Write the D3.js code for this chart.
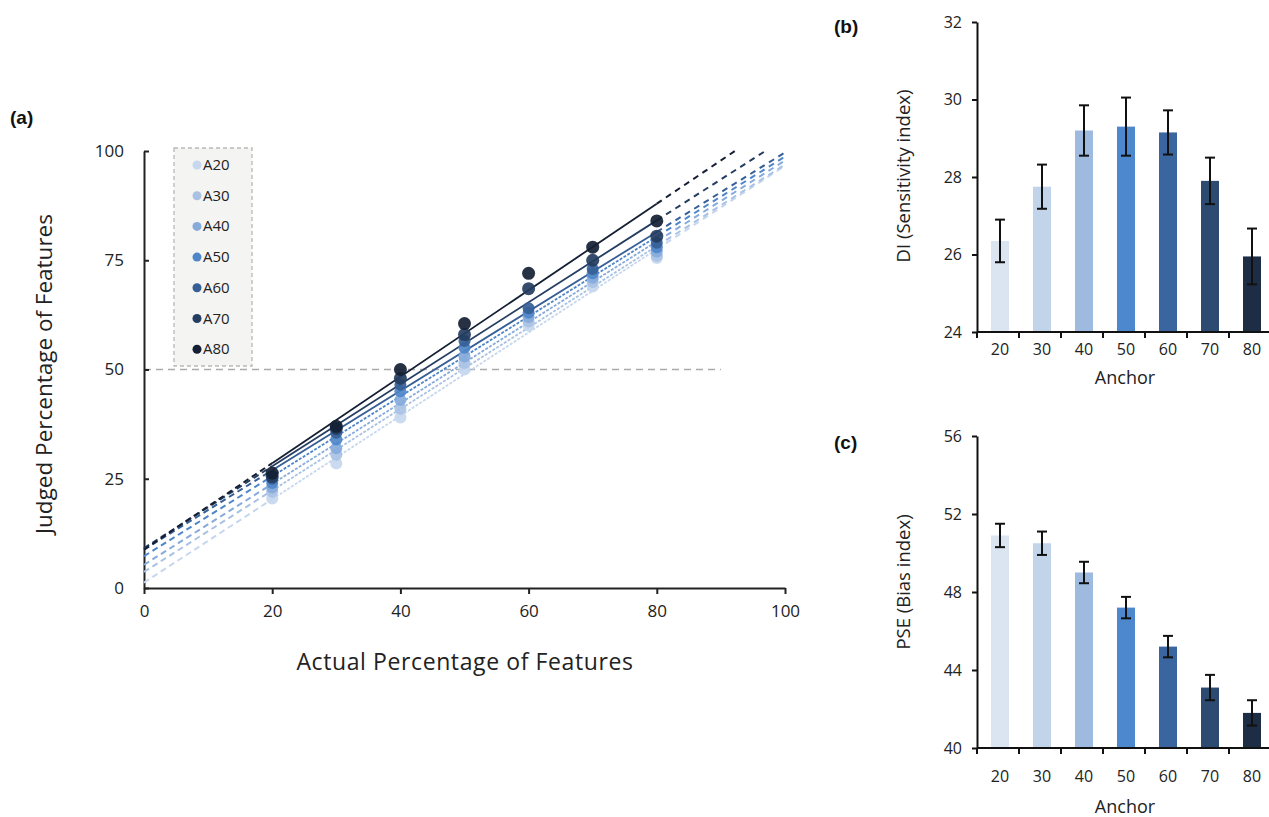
<!DOCTYPE html>
<html><head><meta charset="utf-8">
<script src="https://cdn.jsdelivr.net/npm/d3@7"></script>
<style>
html,body{margin:0;padding:0;background:#fff;}
svg{display:block;}
text{font-family:"Open Sans",Lato,sans-serif;fill:#222;}
.plabel{font-family:"Liberation Sans",Arial,sans-serif;font-weight:bold;font-size:19px;fill:#111;}
</style></head>
<body>
<svg id="chart" width="1269" height="817"></svg>
<script>
// ---------- data ----------
const actualTicks = [0,20,40,60,80,100];
const judgedTicks = [0,25,50,75,100];
const anchorX = [20,30,40,50,60,70,80];
const seriesNames = ["A20","A30","A40","A50","A60","A70","A80"];
const seriesColors = ["#c6d7ee","#a9c2e4","#86aadb","#4f86c9","#365f97","#243d60","#141f33"];
const a20 = [20.5,28.5,39,50,60,69,75.5];
const a30 = [22,30.5,41,51.5,61,70,76];
const a40 = [23,32,43,53,62,71,77];
const a50 = [24,34,45,55,63,72,78];
const a60 = [25,35.5,46.5,56.5,64,73,79];
const a70 = [25.5,36.5,48,58,68.5,75,80.5];
const a80 = [26.3,37,50,60.5,72,78,84];
const seriesValues = [a20,a30,a40,a50,a60,a70,a80];
const trendRange = [0,100];   // linear trendline with forecast back/forward
const fitRange = [20,80];
const refLevel = 50;
const refRange = [0,90];

const anchorCats = ["20","30","40","50","60","70","80"];
const barColors = ["#dbe5f1","#c2d4ea","#9fbadf","#4d88cf","#3a659e","#2d4a70","#1d2d45"];
const diValues = [26.35,27.75,29.2,29.3,29.15,27.9,25.95];
const diErrors = [0.55,0.57,0.65,0.75,0.57,0.6,0.72];
const diTicks = [24,26,28,30,32];
const pseValues = [50.9,50.5,49.0,47.2,45.2,43.1,41.8];
const pseErrors = [0.6,0.6,0.55,0.55,0.55,0.65,0.65];
const pseTicks = [40,44,48,52,56];

const svg = d3.select("#chart");

// least squares trendline of a series
function linFit(xs, ys){
  const mx = d3.mean(xs), my = d3.mean(ys);
  const sxy = d3.sum(xs, (x,i)=>(x-mx)*(ys[i]-my));
  const sxx = d3.sum(xs, x=>(x-mx)*(x-mx));
  const m = sxy/sxx;
  return {m, b: my - m*mx};
}

// ---------- panel (a) ----------
const xA = d3.scaleLinear().domain([0,100]).range([144,785]);
const yA = d3.scaleLinear().domain([0,100]).range([588,151]);
const gA = svg.append("g");
svg.append("text").attr("class","plabel").attr("x",10).attr("y",124).text("(a)");

gA.append("line").attr("x1",xA(refRange[0])).attr("x2",xA(refRange[1]))
  .attr("y1",yA(refLevel)).attr("y2",yA(refLevel))
  .attr("stroke","#aaa").attr("stroke-width",1.5).attr("stroke-dasharray","7,5");

const axX = d3.axisBottom(xA).tickValues(actualTicks).tickSize(6).tickSizeOuter(0);
const gx = gA.append("g").attr("transform","translate(0,588)").call(axX);
gx.select(".domain").attr("stroke","#222").attr("stroke-width",2);
gx.selectAll(".tick line").attr("stroke","#222").attr("stroke-width",2);
gx.selectAll(".tick text").attr("font-size",17).attr("dy","1.2em").attr("fill","#222").style("font-family","'Open Sans'");
const axY = d3.axisLeft(yA).tickValues(judgedTicks).tickSize(-5).tickSizeOuter(0).tickPadding(20);
const gy = gA.append("g").attr("transform","translate(144,0)").call(axY);
gy.select(".domain").attr("stroke","#222").attr("stroke-width",2);
gy.selectAll(".tick line").attr("stroke","#222").attr("stroke-width",2);
gy.selectAll(".tick text").attr("font-size",17).attr("fill","#222").style("font-family","'Open Sans'");

gA.append("text").attr("x",465).attr("y",670).attr("text-anchor","middle")
  .attr("font-size",23).attr("letter-spacing",0.6).attr("fill","#333").text("Actual Percentage of Features");
gA.append("text").attr("transform","translate(52,374) rotate(-90)").attr("text-anchor","middle")
  .attr("font-size",22.5).attr("fill","#333").text("Judged Percentage of Features");

// trend lines
seriesNames.forEach((name,i)=>{
  const {m,b} = linFit(anchorX, seriesValues[i]);
  const f = x => b + m*x;
  const xEnd = Math.min(trendRange[1], (100 - b)/m);
  gA.append("line").attr("x1",xA(trendRange[0])).attr("y1",yA(f(trendRange[0])))
    .attr("x2",xA(fitRange[0])).attr("y2",yA(f(fitRange[0])))
    .attr("stroke",seriesColors[i]).attr("stroke-width",2).attr("stroke-dasharray","6,4");
  gA.append("line").attr("x1",xA(fitRange[0])).attr("y1",yA(f(fitRange[0])))
    .attr("x2",xA(fitRange[1])).attr("y2",yA(f(fitRange[1])))
    .attr("stroke",seriesColors[i]).attr("stroke-width",1.8)
    .attr("stroke-dasharray", i<4 ? "3,1.5" : null);
  gA.append("line").attr("x1",xA(fitRange[1])).attr("y1",yA(f(fitRange[1])))
    .attr("x2",xA(xEnd)).attr("y2",yA(f(xEnd)))
    .attr("stroke",seriesColors[i]).attr("stroke-width",2).attr("stroke-dasharray","6,5");
});

// points
seriesNames.forEach((name,i)=>{
  gA.append("g").selectAll("circle").data(seriesValues[i]).join("circle")
    .attr("cx",(d,j)=>xA(anchorX[j])).attr("cy",d=>yA(d)).attr("r",i>=5?6.5:6)
    .attr("fill",seriesColors[i]).attr("opacity",0.92);
});

// legend
const lg = gA.append("g");
lg.append("rect").attr("x",174).attr("y",148).attr("width",78).attr("height",218)
  .attr("fill","#f4f4f2").attr("stroke","#b8b8b8").attr("stroke-width",1.3).attr("stroke-dasharray","4,3");
seriesNames.forEach((name,i)=>{
  const yy = 165 + i*30.7;
  lg.append("circle").attr("cx",197).attr("cy",yy).attr("r",4.5).attr("fill",seriesColors[i]);
  lg.append("text").attr("x",203).attr("y",yy+5).attr("font-size",15).attr("fill","#222").text(name);
});

// ---------- bar panels ----------
function barPanel(opts){
  const {top,bottom,ticks,values,errors,label,yTitle,titleY,anchorY,tickLabelY,plabelY} = opts;
  const g = svg.append("g");
  const x = d3.scaleBand().domain(anchorCats).range([979,1273]).padding(0);
  const y = d3.scaleLinear().domain([ticks[0],ticks[ticks.length-1]]).range([bottom,top]);
  const bw = 18;
  const cx = i => x(anchorCats[i])+x.bandwidth()/2;
  g.selectAll("rect.bar").data(values).join("rect").attr("class","bar")
    .attr("x",(d,i)=>cx(i)-bw/2).attr("width",bw)
    .attr("y",d=>y(d)).attr("height",d=>y(ticks[0])-y(d))
    .attr("fill",(d,i)=>barColors[i]);
  const eb = g.selectAll("g.err").data(values).join("g").attr("class","err");
  eb.append("line").attr("x1",(d,i)=>cx(i)).attr("x2",(d,i)=>cx(i))
    .attr("y1",(d,i)=>y(d+errors[i])).attr("y2",(d,i)=>y(d-errors[i])).attr("stroke","#111").attr("stroke-width",2);
  [1,-1].forEach(s=>{
    eb.append("line").attr("x1",(d,i)=>cx(i)-5).attr("x2",(d,i)=>cx(i)+5)
      .attr("y1",(d,i)=>y(d+s*errors[i])).attr("y2",(d,i)=>y(d+s*errors[i])).attr("stroke","#111").attr("stroke-width",2);
  });
  const ay = d3.axisLeft(y).tickValues(ticks).tickSize(5).tickSizeOuter(0).tickPadding(10);
  const gy = g.append("g").attr("transform","translate(977,0)").call(ay);
  gy.select(".domain").attr("stroke","#111").attr("stroke-width",2);
  gy.selectAll(".tick line").attr("stroke","#111").attr("stroke-width",2);
  gy.selectAll(".tick text").attr("font-size",16).attr("fill","#333").style("font-family","'Open Sans'");
  g.append("line").attr("x1",977).attr("x2",1269).attr("y1",bottom).attr("y2",bottom).attr("stroke","#111").attr("stroke-width",2);
  g.selectAll("line.xt").data(anchorCats).join("line").attr("class","xt")
    .attr("x1",d=>x(d)-2).attr("x2",d=>x(d)-2).attr("y1",bottom).attr("y2",bottom+6)
    .attr("stroke","#111").attr("stroke-width",2);
  g.selectAll("text.xl").data(anchorCats).join("text").attr("class","xl")
    .attr("x",d=>x(d)+x.bandwidth()/2).attr("y",tickLabelY).attr("text-anchor","middle")
    .attr("font-size",16).attr("fill","#333").text(d=>d);
  g.append("text").attr("x",1125).attr("y",anchorY).attr("text-anchor","middle").attr("font-size",18).attr("fill","#333").text("Anchor");
  g.append("text").attr("transform",`translate(910,${titleY}) rotate(-90)`).attr("text-anchor","middle")
    .attr("font-size",18.5).attr("fill","#333").text(yTitle);
  svg.append("text").attr("class","plabel").attr("x",834).attr("y",plabelY).text(label);
}
barPanel({top:22,bottom:332,ticks:diTicks,values:diValues,errors:diErrors,label:"(b)",
  yTitle:"DI (Sensitivity index)",titleY:176,anchorY:384,tickLabelY:355,plabelY:33});
barPanel({top:436,bottom:748,ticks:pseTicks,values:pseValues,errors:pseErrors,label:"(c)",
  yTitle:"PSE (Bias index)",titleY:582,anchorY:813,tickLabelY:782,plabelY:449});
</script>
</body></html>
